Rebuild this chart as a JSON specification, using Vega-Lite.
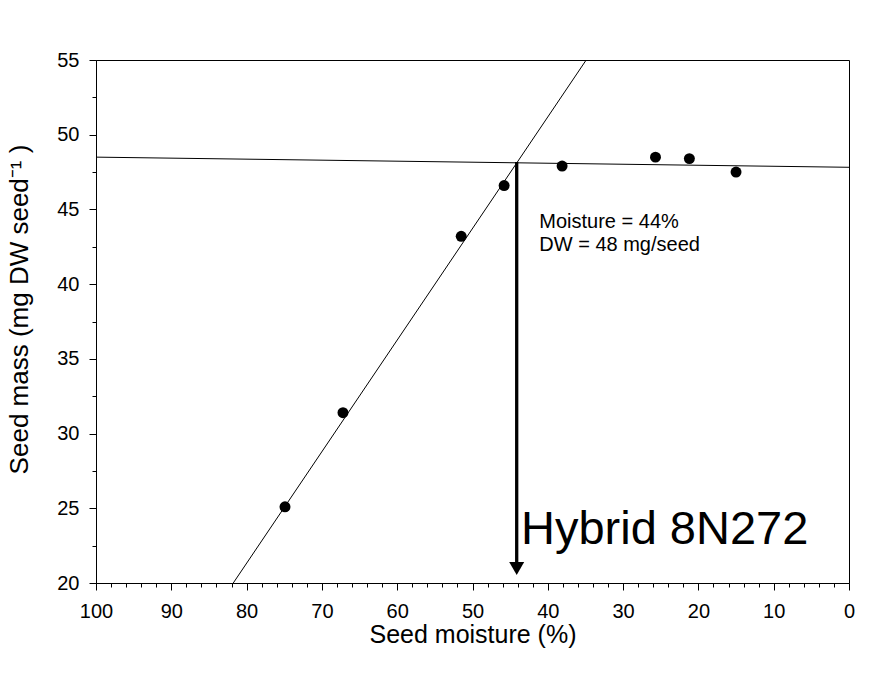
{
  "$schema": "https://vega.github.io/schema/vega-lite/v6.json",
  "width": 753,
  "height": 523,
  "autosize": {"type": "none"},
  "padding": {"left": 96, "top": 60, "right": 36, "bottom": 90},
  "background": "white",
  "config": {
    "font": "Liberation Sans",
    "view": {"stroke": "black", "strokeWidth": 1},
    "axis": {
      "grid": false,
      "domainColor": "black",
      "tickColor": "black",
      "labelColor": "black",
      "titleColor": "black",
      "titleFontWeight": "normal",
      "labelFontSize": 20,
      "titleFontSize": 25,
      "tickSize": 7,
      "labelFlush": false,
      "labelOverlap": false
    }
  },
  "datasets": {
    "points": [
      {"moisture": 74.9, "mass": 25.1},
      {"moisture": 67.2, "mass": 31.4},
      {"moisture": 51.5, "mass": 43.2},
      {"moisture": 45.8, "mass": 46.6},
      {"moisture": 38.1, "mass": 47.9},
      {"moisture": 25.7, "mass": 48.5},
      {"moisture": 21.2, "mass": 48.4},
      {"moisture": 15.0, "mass": 47.5}
    ],
    "flat": [
      {"moisture": 100, "mass": 48.5},
      {"moisture": 0, "mass": 47.82}
    ],
    "steep": [
      {"moisture": 81.77, "mass": 20},
      {"moisture": 34.9, "mass": 55}
    ],
    "arrow": [
      {"moisture": 44.13, "top": 48.17, "bottom": 21.2}
    ],
    "head": [
      {"moisture": 44.13, "mass": 20.97}
    ],
    "notes": [
      {"moisture": 41.13, "mass": 44.16, "label": "Moisture = 44%"},
      {"moisture": 41.13, "mass": 42.59, "label": "DW = 48 mg/seed"}
    ],
    "title": [
      {"moisture": 43.56, "mass": 23.55, "label": "Hybrid 8N272"}
    ]
  },
  "layer": [
    {
      "data": {"name": "flat"},
      "mark": {"type": "line", "color": "black", "strokeWidth": 1},
      "encoding": {
        "x": {
          "field": "moisture", "type": "quantitative",
          "scale": {"domain": [0, 100], "reverse": true, "nice": false},
          "axis": {
            "orient": "bottom",
            "title": "Seed moisture (%)",
            "values": [0, 10, 20, 30, 40, 50, 60, 70, 80, 90, 100],
            "labelPadding": 11,
            "titlePadding": 1
          }
        },
        "y": {
          "field": "mass", "type": "quantitative",
          "scale": {"domain": [20, 55], "nice": false, "zero": false},
          "axis": {
            "orient": "left",
            "title": "Seed mass (mg DW seed⁻¹ )",
            "titleFontSize": 26,
            "titleAlign": "center",
            "titleY": 249,
            "values": [20, 25, 30, 35, 40, 45, 50, 55],
            "labelPadding": 10,
            "titlePadding": 24
          }
        }
      }
    },
    {
      "data": {"name": "steep"},
      "mark": {"type": "line", "color": "black", "strokeWidth": 1, "clip": true},
      "encoding": {
        "x": {
          "field": "moisture", "type": "quantitative",
          "axis": {
            "orient": "bottom",
            "title": null,
            "labels": false,
            "domain": false,
            "tickSize": 4,
            "values": [2, 4, 6, 8, 12, 14, 16, 18, 22, 24, 26, 28, 32, 34, 36, 38, 42, 44, 46, 48, 52, 54, 56, 58, 62, 64, 66, 68, 72, 74, 76, 78, 82, 84, 86, 88, 92, 94, 96, 98]
          }
        },
        "y": {
          "field": "mass", "type": "quantitative",
          "axis": {
            "orient": "left",
            "title": null,
            "labels": false,
            "domain": false,
            "tickSize": 4,
            "values": [22.5, 27.5, 32.5, 37.5, 42.5, 47.5, 52.5]
          }
        }
      }
    },
    {
      "data": {"name": "points"},
      "mark": {"type": "circle", "color": "black", "opacity": 1, "size": 120},
      "encoding": {
        "x": {"field": "moisture", "type": "quantitative", "axis": null},
        "y": {"field": "mass", "type": "quantitative", "axis": null}
      }
    },
    {
      "data": {"name": "arrow"},
      "mark": {"type": "rule", "color": "black", "strokeWidth": 3.3},
      "encoding": {
        "x": {"field": "moisture", "type": "quantitative", "axis": null},
        "y": {"field": "top", "type": "quantitative", "axis": null},
        "y2": {"field": "bottom"}
      }
    },
    {
      "data": {"name": "head"},
      "mark": {"type": "point", "shape": "triangle-down", "filled": true, "color": "black", "opacity": 1, "size": 225},
      "encoding": {
        "x": {"field": "moisture", "type": "quantitative", "axis": null},
        "y": {"field": "mass", "type": "quantitative", "axis": null}
      }
    },
    {
      "data": {"name": "notes"},
      "mark": {"type": "text", "align": "left", "baseline": "middle", "fontSize": 20, "color": "black"},
      "encoding": {
        "x": {"field": "moisture", "type": "quantitative", "axis": null},
        "y": {"field": "mass", "type": "quantitative", "axis": null},
        "text": {"field": "label"}
      }
    },
    {
      "data": {"name": "title"},
      "mark": {"type": "text", "align": "left", "baseline": "middle", "fontSize": 47, "color": "black"},
      "encoding": {
        "x": {"field": "moisture", "type": "quantitative", "axis": null},
        "y": {"field": "mass", "type": "quantitative", "axis": null},
        "text": {"field": "label"}
      }
    }
  ],
  "resolve": {"axis": {"x": "independent", "y": "independent"}}
}
